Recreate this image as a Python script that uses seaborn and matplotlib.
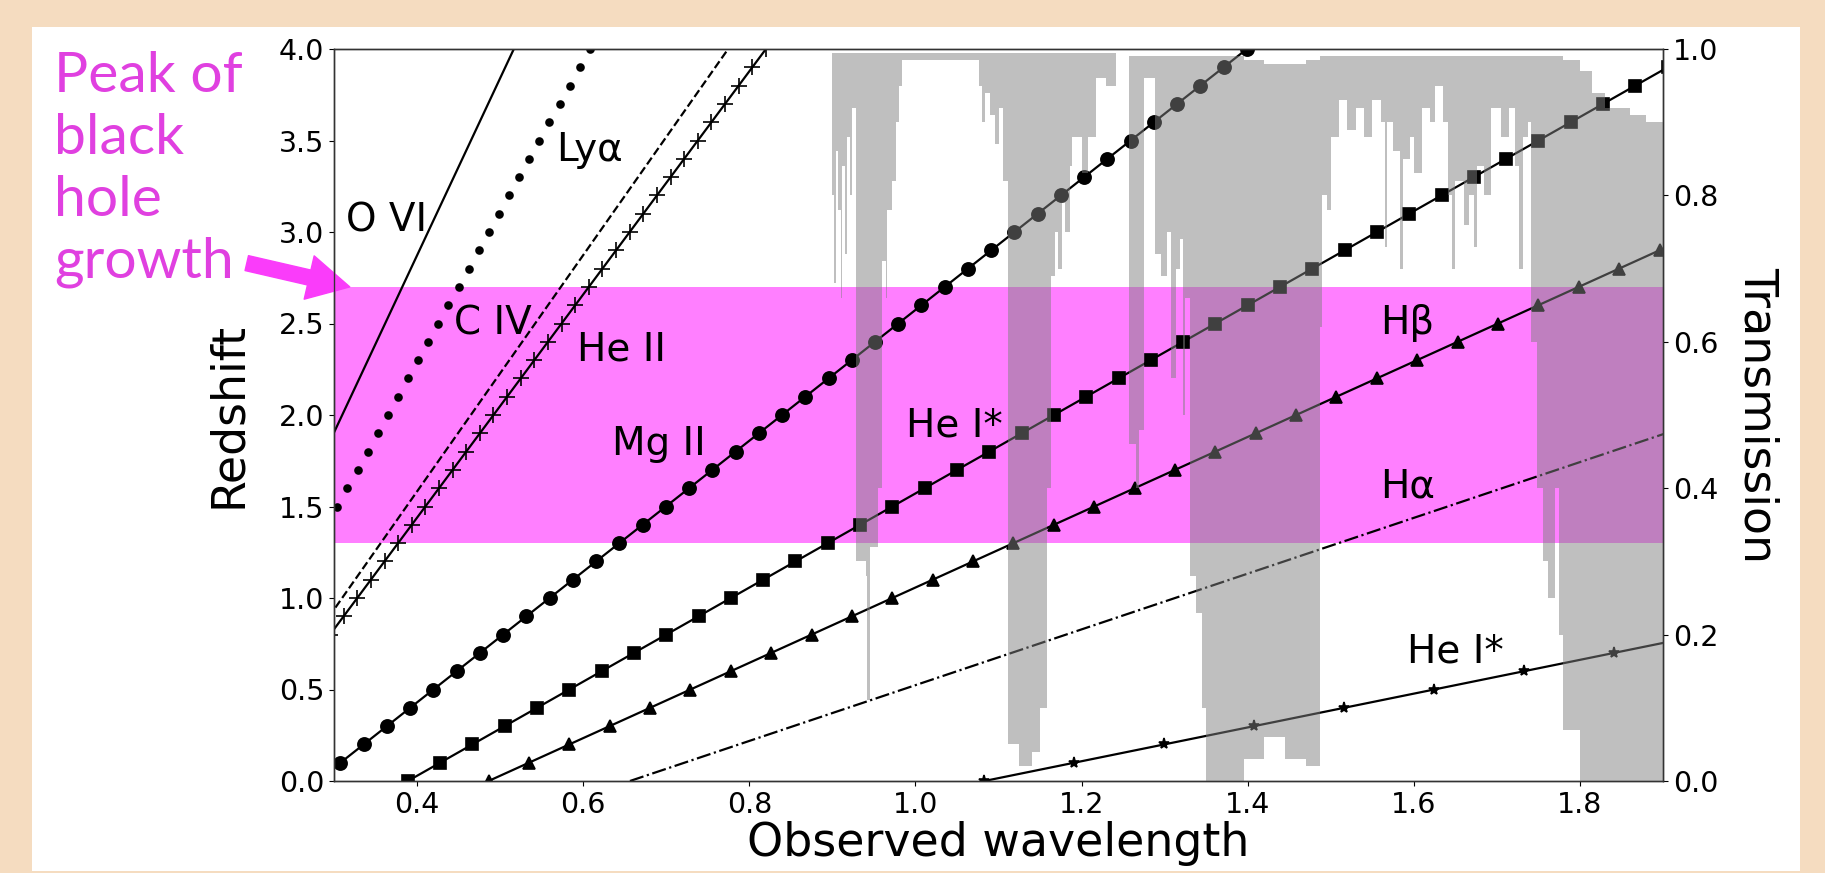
import numpy as np
import pandas as pd
import seaborn as sns
import matplotlib.pyplot as plt
from matplotlib.patches import Rectangle

sns.set_style("ticks")
plt.rcParams['font.family'] = ['DejaVu Sans']
plt.rcParams.update({'text.color': 'black', 'axes.labelcolor': 'black',
                     'xtick.color': 'black', 'ytick.color': 'black'})

# emission lines: rest-frame wavelength in micron
line_names = ['O VI', 'Lyα', 'C IV', 'He II', 'Mg II', 'He I*', 'Hβ', 'Hα', 'He I*']
rest_wave = [0.1033, 0.1216, 0.1549, 0.1640, 0.2798, 0.3889, 0.4861, 0.6563, 1.0830]
redshift = np.round(np.arange(0, 4.01, 0.1), 1)

# atmospheric transmission: start of each segment, min and max
trans_wave = [0.900, 0.902, 0.904, 0.907, 0.910, 0.912, 0.915, 0.918, 0.921, 0.924,
              0.929, 0.940, 0.942, 0.945, 0.955, 0.960, 0.964, 0.966, 0.972, 0.976,
              0.980, 0.984, 1.076, 1.080, 1.084, 1.090, 1.096, 1.100, 1.105, 1.112,
              1.125, 1.140, 1.150, 1.158, 1.163, 1.168, 1.172, 1.176, 1.180, 1.186,
              1.189, 1.200, 1.208, 1.217, 1.230, 1.241, 1.257, 1.266, 1.269, 1.275,
              1.289, 1.296, 1.303, 1.308, 1.314, 1.318, 1.322, 1.325, 1.330, 1.338,
              1.345, 1.350, 1.395, 1.420, 1.445, 1.470, 1.487, 1.490, 1.495, 1.500,
              1.510, 1.520, 1.530, 1.540, 1.550, 1.560, 1.565, 1.568, 1.575, 1.583,
              1.587, 1.595, 1.600, 1.610, 1.620, 1.625, 1.635, 1.641, 1.646, 1.650,
              1.660, 1.667, 1.672, 1.676, 1.685, 1.693, 1.705, 1.715, 1.722, 1.727,
              1.731, 1.738, 1.741, 1.748, 1.755, 1.762, 1.770, 1.775, 1.780, 1.800,
              1.815, 1.830, 1.860, 1.880, 1.900]
trans_low = [0.80, 0.68, 0.86, 0.78, 0.66, 0.84, 0.72, 0.88, 0.80, 0.92,
             0.30, 0.28, 0.11, 0.32, 0.40, 0.71, 0.66, 0.78, 0.82, 0.90,
             0.95, 0.985, 0.95, 0.90, 0.94, 0.91, 0.87, 0.92, 0.82, 0.05,
             0.02, 0.04, 0.10, 0.40, 0.69, 0.75, 0.70, 0.79, 0.75, 0.84,
             0.88, 0.83, 0.88, 0.96, 0.95, 0.99, 0.46, 0.40, 0.48, 0.96,
             0.72, 0.69, 0.75, 0.55, 0.70, 0.74, 0.50, 0.66, 0.28, 0.23,
             0.10, 0.00, 0.03, 0.06, 0.03, 0.02, 0.62, 0.80, 0.78, 0.88,
             0.93, 0.89, 0.92, 0.88, 0.93, 0.90, 0.73, 0.90, 0.86, 0.70,
             0.85, 0.88, 0.83, 0.92, 0.90, 0.95, 0.90, 0.80, 0.70, 0.82,
             0.76, 0.80, 0.73, 0.84, 0.80, 0.92, 0.88, 0.92, 0.84, 0.70,
             0.88, 0.90, 0.60, 0.40, 0.30, 0.25, 0.40, 0.20, 0.07, 0.00,
             0.00, 0.00, 0.00, 0.00, 0.00]
trans_high = [0.995, 0.995, 0.995, 0.995, 0.995, 0.995, 0.995, 0.995, 0.995, 0.995,
              0.995, 0.995, 0.995, 0.995, 0.995, 0.995, 0.995, 0.995, 0.995, 0.995,
              0.995, 0.995, 0.995, 0.995, 0.995, 0.995, 0.995, 0.995, 0.995, 0.995,
              0.995, 0.995, 0.995, 0.995, 0.995, 0.995, 0.995, 0.995, 0.995, 0.995,
              0.995, 0.995, 0.995, 0.995, 0.995, 0.99, 0.99, 0.99, 0.99, 0.99,
              0.99, 0.99, 0.99, 0.99, 0.99, 0.99, 0.99, 0.99, 0.99, 0.99,
              0.99, 0.99, 0.985, 0.98, 0.98, 0.985, 0.99, 0.99, 0.99, 0.99,
              0.99, 0.99, 0.99, 0.99, 0.99, 0.99, 0.99, 0.99, 0.99, 0.99,
              0.99, 0.99, 0.99, 0.99, 0.99, 0.99, 0.99, 0.99, 0.99, 0.99,
              0.99, 0.99, 0.99, 0.99, 0.99, 0.99, 0.99, 0.99, 0.99, 0.99,
              0.99, 0.99, 0.99, 0.99, 0.99, 0.99, 0.99, 0.99, 0.985, 0.97,
              0.94, 0.92, 0.91, 0.90, 0.90]

# look of each line
styles = [('-', None, 0), ('none', 'o', 5), ('--', None, 0), ('-', '+', 11),
          ('-', 'o', 9.5), ('-', 's', 8.5), ('-', '^', 9), ('-.', None, 0), ('-', '*', 8)]
# label anchors (data coords, left/baseline)
label_pos = [(0.314, 3.00), (0.568, 3.39), (0.445, 2.44), (0.593, 2.30), (0.635, 1.78),
             (0.989, 1.88), (1.560, 2.44), (1.560, 1.55), (1.592, 0.65)]

fig, ax = plt.subplots(figsize=(18.25, 8.73), dpi=100)
fig.patch.set_facecolor('#f5dcc0')
fig.add_artist(Rectangle((32 / 1825, 0.0023), 1768 / 1825, 0.9668,
                         transform=fig.transFigure, facecolor='white',
                         edgecolor='none', zorder=-1))
fig.subplots_adjust(left=334 / 1825, right=1663 / 1825, bottom=1 - 781 / 873, top=1 - 49 / 873)

# peak of black hole growth band
ax.axhspan(1.3, 2.7, color='magenta', alpha=0.5, lw=0, zorder=0)

for lam, (ls, mk, ms) in zip(rest_wave, styles):
    df = pd.DataFrame({'wave': lam * (1 + redshift), 'z': redshift})
    sns.lineplot(data=df, x='wave', y='z', ax=ax, color='black', linestyle=ls,
                 marker=mk, markersize=ms, markeredgecolor='black', markerfacecolor='black',
                 markeredgewidth=1.2, lw=1.6, sort=False, zorder=2)

for name, (lx, ly) in zip(line_names, label_pos):
    ax.text(lx, ly, name, fontsize=28, ha='left', va='baseline', zorder=3)

ax.set_xlim(0.3, 1.9)
ax.set_ylim(0, 4)
ax.set_xticks(np.arange(0.4, 1.81, 0.2))
ax.set_yticks(np.arange(0, 4.01, 0.5))
ax.tick_params(labelsize=20.5)
ax.set_xlabel('Observed wavelength', fontsize=33, labelpad=2)
ax.set_ylabel('Redshift', fontsize=33, labelpad=20)

ax2 = ax.twinx()
ax2.fill_between(trans_wave, trans_low, trans_high, step='post', color='gray',
                 alpha=0.5, lw=0)
ax2.set_ylim(0, 1)
ax2.set_xlim(0.3, 1.9)
ax2.tick_params(labelsize=20.5)
ax2.set_ylabel('Transmission', fontsize=33, rotation=270, va='bottom', labelpad=12)

for a in (ax, ax2):
    for sp in a.spines.values():
        sp.set_visible(True)
        sp.set_linewidth(1.0)
        sp.set_color('#333333')

ax.annotate('', xy=(0.319, 2.70), xytext=(0.195, 2.83),
            arrowprops=dict(arrowstyle='simple,head_length=1.5,head_width=1.6,tail_width=0.55',
                            color='#fa3cfa', mutation_scale=20, shrinkA=0, shrinkB=0),
            annotation_clip=False)

fig.text(54 / 1825, 1 - 278 / 873, 'Peak of\nblack\nhole\ngrowth', fontsize=41,
         linespacing=1.27, color='#e040e0', family=['Lato', 'DejaVu Sans'],
         ha='left', va='baseline')

fig.savefig('out.png', dpi=100, facecolor=fig.get_facecolor())
